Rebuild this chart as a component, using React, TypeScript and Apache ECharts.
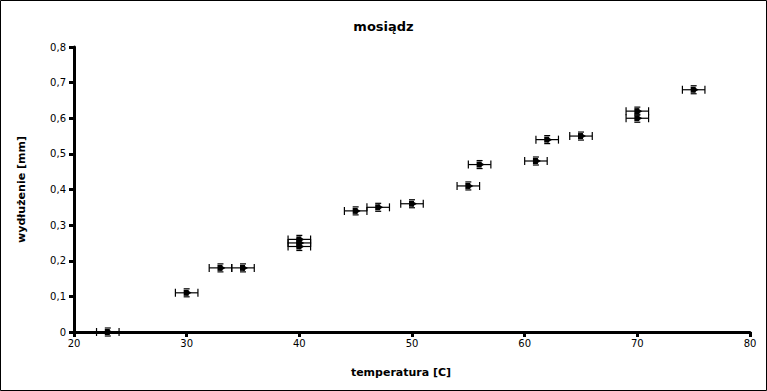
import React, { useEffect, useRef } from "react";
import * as echarts from "echarts";

const temperatures = [23, 30, 33, 35, 40, 40, 40, 45, 47, 50, 55, 56, 61, 62, 65, 70, 70, 75];
const elongations = [0, 0.11, 0.18, 0.18, 0.26, 0.25, 0.24, 0.34, 0.35, 0.36, 0.41, 0.47, 0.48, 0.54, 0.55, 0.62, 0.6, 0.68];
const tempError = 1;
const titleText = "mosiądz";
const xName = "temperatura [C]";
const yName = "wydłużenie [mm]";

export default function App() {
  const ref = useRef<HTMLDivElement>(null);
  useEffect(() => {
    if (!ref.current) return;
    const chart = echarts.init(ref.current, null, { renderer: "svg" });
    const data = temperatures.map((t, i) => [t, elongations[i]]);
    const font = "DejaVu Sans";
    chart.setOption({
      animation: false,
      backgroundColor: "#ffffff",
      title: {
        text: titleText,
        left: "center",
        top: 15,
        textStyle: { fontFamily: font, fontSize: 13, fontWeight: "bold", color: "#000" },
      },
      grid: { left: 74, right: 17, top: 47, bottom: 59, containLabel: false },
      xAxis: {
        type: "value",
        min: 20,
        max: 80,
        interval: 10,
        name: xName,
        nameLocation: "middle",
        nameGap: 35,
        nameTextStyle: { fontFamily: font, fontSize: 11, fontWeight: "bold", color: "#000", padding: [0, 22, 0, 0] },
        axisLine: { show: true, onZero: false, lineStyle: { color: "#000", width: 3 } },
        axisTick: { show: true, length: 5, lineStyle: { color: "#000", width: 3 } },
        axisLabel: { fontFamily: font, fontSize: 10, color: "#000", margin: 6 },
        splitLine: { show: false },
      },
      yAxis: {
        type: "value",
        min: 0,
        max: 0.8,
        interval: 0.1,
        name: yName,
        nameLocation: "middle",
        nameGap: 47,
        nameTextStyle: { fontFamily: font, fontSize: 11, fontWeight: "bold", color: "#000" },
        axisLine: { show: true, lineStyle: { color: "#000", width: 3 } },
        axisTick: { show: true, length: 5, lineStyle: { color: "#000", width: 3 } },
        axisLabel: {
          fontFamily: font,
          fontSize: 10,
          color: "#000",
          margin: 8,
          formatter: (v: number) => (v === 0 ? "0" : v.toFixed(1).replace(".", ",")),
        },
        splitLine: { show: false },
      },
      series: [
        {
          type: "custom",
          data,
          renderItem: (params: any, api: any) => {
            const x = api.value(0);
            const y = api.value(1);
            const c = api.coord([x, y]);
            const l = api.coord([x - tempError, y]);
            const r = api.coord([x + tempError, y]);
            const style = { stroke: "#000", lineWidth: 1.2, fill: "none" };
            return {
              type: "group",
              children: [
                { type: "line", shape: { x1: l[0], y1: c[1], x2: r[0], y2: c[1] }, style },
                { type: "line", shape: { x1: l[0], y1: c[1] - 4, x2: l[0], y2: c[1] + 4 }, style },
                { type: "line", shape: { x1: r[0], y1: c[1] - 4, x2: r[0], y2: c[1] + 4 }, style },
                { type: "line", shape: { x1: c[0] - 3, y1: c[1] - 4, x2: c[0] + 3, y2: c[1] - 4 }, style },
                { type: "line", shape: { x1: c[0] - 3, y1: c[1] + 4, x2: c[0] + 3, y2: c[1] + 4 }, style },
                { type: "rect", shape: { x: c[0] - 3, y: c[1] - 3, width: 5, height: 6 }, style: { fill: "#000" } },
                {
                  type: "polygon",
                  shape: { points: [[c[0], c[1] - 3], [c[0] + 5, c[1]], [c[0], c[1] + 3]] },
                  style: { fill: "#000" },
                },
              ],
            };
          },
        },
      ],
      graphic: [
        {
          type: "rect",
          shape: { x: 0.5, y: 0.5, width: 766, height: 390 },
          style: { fill: "none", stroke: "#000", lineWidth: 1 },
          silent: true,
        },
      ],
    });
    return () => chart.dispose();
  }, []);
  return (
    <div
      ref={ref}
      style={{ position: "fixed", left: 0, top: 0, width: 767, height: 391 }}
    />
  );
}
